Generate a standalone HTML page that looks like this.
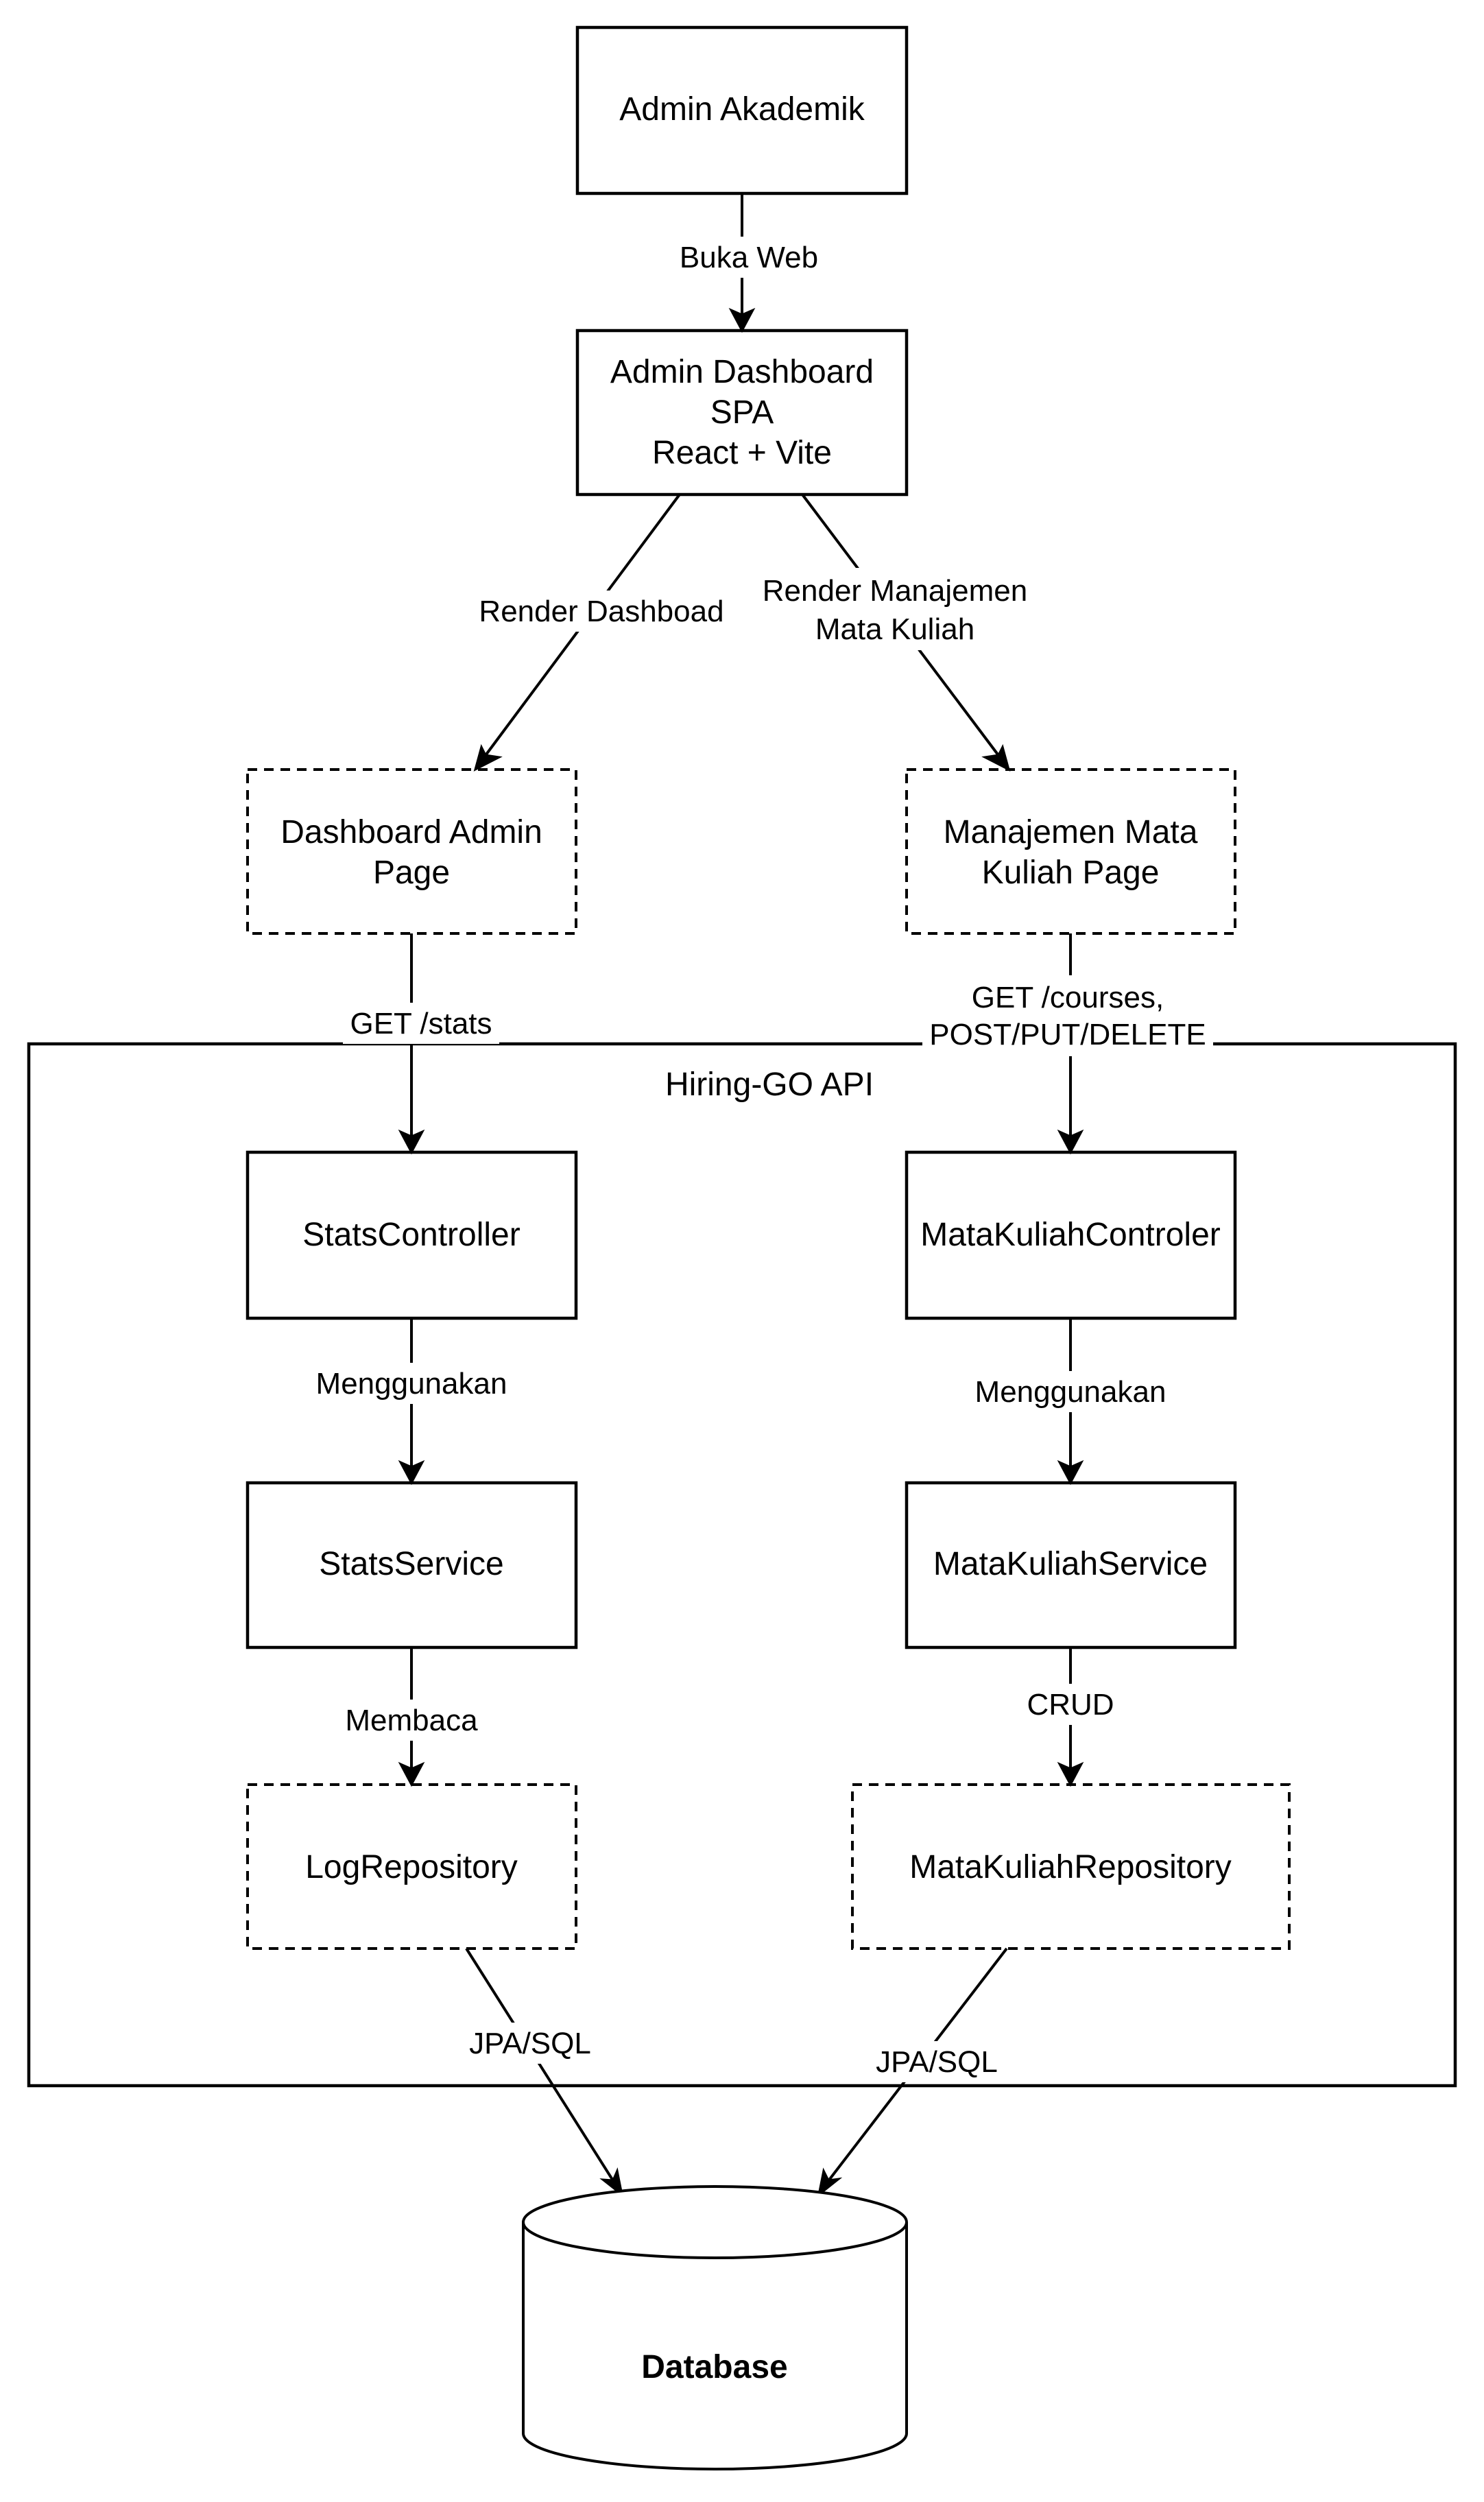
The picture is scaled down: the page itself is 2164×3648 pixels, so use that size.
<!DOCTYPE html>
<html><head><meta charset="utf-8"><style>
html,body{margin:0;padding:0;background:#fff;}
svg{display:block;}
text{font-family:"Liberation Sans",Arial,sans-serif;fill:#000;}
.n{font-size:48px;}
.e{font-size:44px;}
</style></head><body>
<svg width="2164" height="3648" viewBox="0 0 2164 3648" xmlns="http://www.w3.org/2000/svg">
<g fill="none" stroke="#000" stroke-width="4.5">
<rect x="842" y="40" width="480" height="242"/>
<rect x="842" y="482" width="480" height="239"/>
<rect x="42" y="1522" width="2080" height="1519"/>
<rect x="361" y="1680" width="479" height="242"/>
<rect x="1322" y="1680" width="479" height="242"/>
<rect x="361" y="2162" width="479" height="240"/>
<rect x="1322" y="2162" width="479" height="240"/>
</g>
<g fill="none" stroke="#000" stroke-width="4" stroke-dasharray="14 10">
<rect x="361" y="1122" width="479" height="239"/>
<rect x="1322" y="1122" width="479" height="239"/>
<rect x="361" y="2602" width="479" height="239"/>
<rect x="1243" y="2602" width="637" height="239"/>
</g>
<g stroke="#000" stroke-width="4" fill="none">
<line x1="1082" y1="282" x2="1082" y2="460"/>
<line x1="991" y1="721" x2="706" y2="1104"/>
<line x1="1170" y1="721" x2="1458" y2="1104"/>
<line x1="600" y1="1361" x2="600" y2="1658"/>
<line x1="1561" y1="1361" x2="1561" y2="1658"/>
<line x1="600" y1="1922" x2="600" y2="2140"/>
<line x1="1561" y1="1922" x2="1561" y2="2140"/>
<line x1="600" y1="2402" x2="600" y2="2580"/>
<line x1="1561" y1="2402" x2="1561" y2="2580"/>
<line x1="680" y1="2841" x2="895" y2="3181"/>
<line x1="1468" y1="2841" x2="1207" y2="3181"/>
</g>
<g fill="#000" stroke="#000" stroke-width="3">
<polygon points="1082,482 1066,452 1082,459 1098,452"/>
<polygon points="693,1122 702,1089 708,1101 728,1104"/>
<polygon points="1471,1122 1436,1104 1456,1101 1462,1089"/>
<polygon points="600,1680 584,1650 600,1657 616,1650"/>
<polygon points="1561,1680 1545,1650 1561,1657 1577,1650"/>
<polygon points="600,2162 584,2132 600,2139 616,2132"/>
<polygon points="1561,2162 1545,2132 1561,2139 1577,2132"/>
<polygon points="600,2602 584,2572 600,2579 616,2572"/>
<polygon points="1561,2602 1545,2572 1561,2579 1577,2572"/>
<polygon points="907,3200 879,3178 894,3179 900,3165"/>
<polygon points="1194,3200 1201,3165 1208,3179 1223,3177"/>
</g>
<g fill="#fff">
<rect x="980" y="345" width="204" height="60"/>
<rect x="690" y="861" width="376" height="60"/>
<rect x="1100" y="828" width="410" height="120"/>
<rect x="500" y="1462" width="228" height="60"/>
<rect x="1345" y="1422" width="424" height="118"/>
<rect x="450" y="1987" width="300" height="60"/>
<rect x="1410" y="1999" width="302" height="60"/>
<rect x="490" y="2478" width="220" height="60"/>
<rect x="1490" y="2455" width="144" height="60"/>
<rect x="670" y="2949" width="206" height="60"/>
<rect x="1263" y="2976" width="206" height="60"/>
</g>
<path d="M763,3240 L763,3548 A279.5,52 0 0 0 1322,3548 L1322,3240" fill="#fff" stroke="#000" stroke-width="4"/>
<ellipse cx="1042.5" cy="3240" rx="279.5" ry="52" fill="#fff" stroke="#000" stroke-width="4"/>
<text x="1042" y="3467" text-anchor="middle" font-size="48" font-weight="bold">Database</text>
<g class="n" text-anchor="middle">
<text x="1082" y="175">Admin Akademik</text>
<text x="1082" y="558">Admin Dashboard</text>
<text x="1082" y="617">SPA</text>
<text x="1082" y="676">React + Vite</text>
<text x="600" y="1229">Dashboard Admin</text>
<text x="600" y="1288">Page</text>
<text x="1561" y="1229">Manajemen Mata</text>
<text x="1561" y="1288">Kuliah Page</text>
<text x="1122" y="1597">Hiring-GO API</text>
<text x="600" y="1816">StatsController</text>
<text x="1561" y="1816">MataKuliahControler</text>
<text x="600" y="2296">StatsService</text>
<text x="1561" y="2296">MataKuliahService</text>
<text x="600" y="2738">LogRepository</text>
<text x="1561" y="2738">MataKuliahRepository</text>
</g>
<g class="e" text-anchor="middle">
<text x="1092" y="390">Buka Web</text>
<text x="877" y="906">Render Dashboad</text>
<text x="1305" y="876">Render Manajemen</text>
<text x="1305" y="932">Mata Kuliah</text>
<text x="614" y="1507">GET /stats</text>
<text x="1557" y="1469">GET /courses,</text>
<text x="1557" y="1523">POST/PUT/DELETE</text>
<text x="600" y="2032">Menggunakan</text>
<text x="1561" y="2044">Menggunakan</text>
<text x="600" y="2523">Membaca</text>
<text x="1561" y="2500">CRUD</text>
<text x="773" y="2994">JPA/SQL</text>
<text x="1366" y="3021">JPA/SQL</text>
</g>
</svg>
</body></html>
